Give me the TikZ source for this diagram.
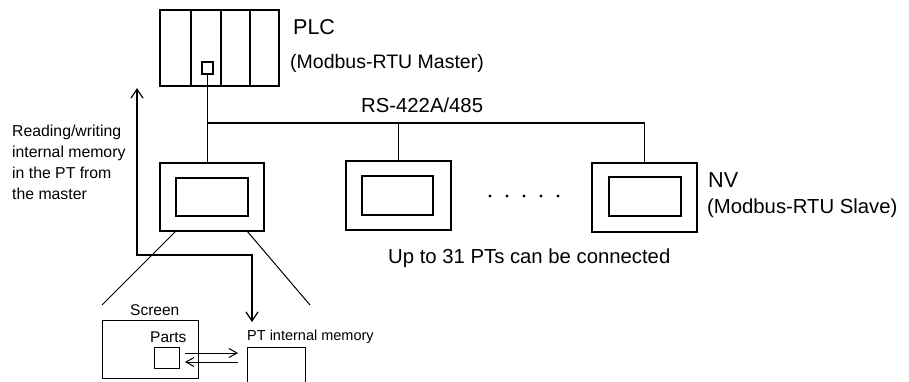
\documentclass[tikz,border=0pt]{standalone}
\usepackage{fontspec}
\setmainfont{Liberation Sans}
\usetikzlibrary{arrows.meta}
\tikzset{
  thickbox/.style={draw=black, line width=2pt, inner sep=0pt, minimum width=#1},
  conn/.style={draw=black, line width=1.3pt},
  thin/.style={draw=black, line width=1pt},
  lbl/.style={inner sep=0pt, anchor=base west, text=black},
  bigbarb/.tip={Straight Barb[length=9pt,width=12pt,line width=1.2pt]},
  smallbarb/.tip={Straight Barb[length=8pt,width=9pt,line width=1pt]},
}
\newcommand{\fs}[1]{\fontsize{#1}{#1}\selectfont}
\begin{document}
\begin{tikzpicture}[x=1pt,y=-1pt]
\useasboundingbox (0,0) rectangle (909,381);

% PLC
\node[thickbox=119pt, minimum height=76pt] (plc) at (219.5,48) {};
\draw[line width=2pt] (191,10) -- (191,86) (221,10) -- (221,86) (250,10) -- (250,86);
\node[draw=black, line width=1.8pt, inner sep=0pt, minimum width=11pt, minimum height=12pt] (port) at (207.5,68) {};

% PTs
\node[thickbox=104pt, minimum height=68pt] (pt1) at (212,197) {};
\node[thickbox=72pt, minimum height=38pt] (pt1i) at (212,197) {};
\node[thickbox=105pt, minimum height=69pt] (pt2) at (398.5,195.5) {};
\node[thickbox=71pt, minimum height=39pt] (pt2i) at (397.5,195.5) {};
\node[thickbox=105pt, minimum height=69pt] (nv) at (644.5,197.5) {};
\node[thickbox=72pt, minimum height=39pt] (nvi) at (645,196.5) {};

% bus
\coordinate (busL) at (207.5,123);
\coordinate (busR) at (644.5,123);
\draw[conn] (port.south) -- (busL) -- (busR) -- (nv.north -| busR);
\draw[conn] (busL) -- (busL |- pt1.north);
\draw[conn] (pt2.north |- busL) -- (pt2.north);

% dots
\foreach \x in {490,507,524,541,558} \fill (\x,196) circle (1.6pt);

% zoom lines
\coordinate (zl1) at (176,231);
\coordinate (zl2) at (102,305);
\coordinate (zr1) at (247,231);
\coordinate (zr2) at (310,305);
\draw[thin] (zl1) -- (zl2);
\draw[thin] (zr1) -- (zr2);

% read/write arrow
\coordinate (aTop) at (137,88);
\coordinate (aC1) at (137,255);
\coordinate (aC2) at (252,255);
\coordinate (aBot) at (252,322);
\draw[line width=1.2pt, {bigbarb}-{bigbarb}] (aTop) -- (aC1) -- (aC2) -- (aBot);

% bottom detail
\node[draw=black, line width=1pt, inner sep=0pt, minimum width=96pt, minimum height=58pt] (screen) at (150,349) {};
\node[draw=black, line width=1pt, inner sep=0pt, minimum width=25pt, minimum height=21pt] (parts) at (166.5,357.5) {};
\coordinate (memTL) at (247,347);
\coordinate (memTR) at (305,347);
\draw[thin] (247,383) -- (memTL) -- (memTR) -- (305,383);
\coordinate (r1) at (185,353);
\coordinate (r2) at (238,353);
\coordinate (q1) at (238,362);
\coordinate (q2) at (185,362);
\draw[thin, -{smallbarb}] (r1) -- (r2);
\draw[thin, -{smallbarb}] (q1) -- (q2);

% labels
\node[lbl] (tplc) at (293,34) {\fs{21.5}PLC};
\node[lbl] (tmaster) at (290,68) {\fs{19.5}(Modbus-RTU Master)};
\node[lbl] (trs) at (361,112) {\fs{20.3}RS-422A/485};
\node[lbl] (tnv) at (708,187) {\fs{21.6}NV};
\node[lbl] (tslave) at (707,213) {\fs{20.3}(Modbus-RTU Slave)};
\node[lbl] (tup) at (388,263) {\fs{20.3}Up to 31 PTs can be connected};
\node[lbl] (l1) at (12,136) {\fs{15.8}Reading/writing};
\node[lbl] (l2) at (12,157.3) {\fs{15.8}internal memory};
\node[lbl] (l3) at (12,178.6) {\fs{15.8}in the PT from};
\node[lbl] (l4) at (12,199.9) {\fs{15.8}the master};
\node[lbl] (tscreen) at (130,315) {\fs{15.5}Screen};
\node[lbl] (tparts) at (150,342) {\fs{15.5}Parts};
\node[lbl] (tmem) at (247,340) {\fs{14.5}PT internal memory};
\end{tikzpicture}
\end{document}
